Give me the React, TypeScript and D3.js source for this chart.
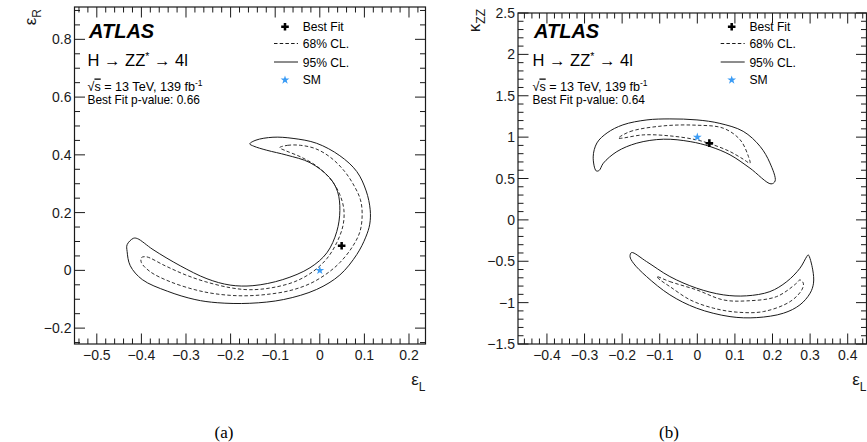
import React from "react";
import * as d3 from "d3";

type Pt = [number, number];

// ---------- tick labels ----------
const epsLTicksA = [-0.5, -0.4, -0.3, -0.2, -0.1, 0, 0.1, 0.2];
const epsRTicksA = [-0.2, 0, 0.2, 0.4, 0.6, 0.8];
const epsLTicksB = [-0.4, -0.3, -0.2, -0.1, 0, 0.1, 0.2, 0.3, 0.4];
const kappaTicksB = [-1.5, -1, -0.5, 0, 0.5, 1, 1.5, 2, 2.5];

// ---------- (a) eps_L vs eps_R contours ----------
const cl95A: Pt[] = [
  [-0.157, 0.438], [-0.143, 0.451], [-0.105, 0.461], [-0.06, 0.457], [-0.007, 0.44],
  [0.045, 0.397], [0.083, 0.342], [0.104, 0.275], [0.113, 0.21], [0.112, 0.16], [0.103, 0.115],
  [0.083, 0.055], [0.045, -0.016], [-0.007, -0.066], [-0.081, -0.101], [-0.157, -0.114],
  [-0.23, -0.112], [-0.28, -0.101], [-0.342, -0.072], [-0.398, -0.032], [-0.425, 0.016],
  [-0.432, 0.065], [-0.432, 0.089], [-0.418, 0.111],
  [-0.409, 0.11], [-0.374, 0.072], [-0.313, 0.016], [-0.253, -0.029], [-0.201, -0.051],
  [-0.15, -0.053], [-0.083, -0.032], [-0.022, 0.009], [0.016, 0.061], [0.038, 0.134],
  [0.045, 0.207], [0.04, 0.272], [0.022, 0.321], [-0.022, 0.373], [-0.074, 0.399],
  [-0.119, 0.416], [-0.148, 0.43],
];
const cl68A: Pt[] = [
  [-0.09, 0.425], [-0.072, 0.433], [-0.043, 0.433], [-0.009, 0.421], [0.025, 0.39],
  [0.056, 0.342], [0.078, 0.29], [0.091, 0.245], [0.095, 0.196], [0.09, 0.134],
  [0.072, 0.079], [0.045, 0.027], [0.016, -0.011], [-0.022, -0.046], [-0.067, -0.07],
  [-0.123, -0.084], [-0.179, -0.088], [-0.235, -0.081], [-0.28, -0.067], [-0.336, -0.039],
  [-0.38, -0.005], [-0.4, 0.027], [-0.4, 0.044],
  [-0.389, 0.047], [-0.347, 0.016], [-0.302, -0.015], [-0.257, -0.039], [-0.201, -0.06],
  [-0.157, -0.067], [-0.107, -0.06], [-0.056, -0.039], [-0.016, -0.005], [0.016, 0.041],
  [0.038, 0.096], [0.052, 0.155], [0.054, 0.21], [0.045, 0.262], [0.027, 0.31],
  [-0.005, 0.359], [-0.043, 0.393], [-0.076, 0.414],
];
const bestFitA: Pt = [0.049, 0.085];
const smA: Pt = [0, 0];

// ---------- (b) eps_L vs kappa_ZZ contours ----------
const cl95BUpper: Pt[] = [
  [-0.269, 0.592], [-0.277, 0.761], [-0.267, 0.93], [-0.24, 1.051], [-0.198, 1.148],
  [-0.134, 1.208], [-0.073, 1.22], [-0.001, 1.208], [0.06, 1.166], [0.122, 1.07],
  [0.167, 0.888], [0.193, 0.689], [0.207, 0.471], [0.196, 0.435],
  [0.14, 0.625], [0.087, 0.786], [0.034, 0.886], [-0.019, 0.946], [-0.09, 0.975],
  [-0.161, 0.927], [-0.214, 0.825], [-0.25, 0.685], [-0.261, 0.598],
];
const cl95BLower: Pt[] = [
  [-0.175, -0.395], [-0.135, -0.504], [-0.073, -0.685], [-0.002, -0.825], [0.069, -0.906],
  [0.131, -0.918], [0.193, -0.867], [0.238, -0.746], [0.273, -0.584], [0.291, -0.444],
  [0.295, -0.423], [0.307, -0.604], [0.309, -0.765], [0.3, -0.886], [0.273, -1.027],
  [0.229, -1.128], [0.158, -1.181], [0.087, -1.169], [-0.002, -1.067], [-0.073, -0.906],
  [-0.135, -0.685], [-0.17, -0.523], [-0.179, -0.444],
];
const cl68BUpper: Pt[] = [
  [-0.21, 0.987], [-0.179, 1.067], [-0.09, 1.136], [-0.002, 1.144], [0.069, 1.108],
  [0.114, 0.967], [0.136, 0.765], [0.14, 0.685],
  [0.122, 0.734], [0.087, 0.825], [0.043, 0.906], [-0.002, 0.967], [-0.073, 1.015],
  [-0.144, 1.027], [-0.201, 0.987],
];
const cl68BLower: Pt[] = [
  [-0.108, -0.685], [-0.073, -0.746], [-0.002, -0.846], [0.069, -0.967], [0.131, -0.979],
  [0.211, -0.927], [0.264, -0.765], [0.273, -0.725],
  [0.282, -0.765], [0.278, -0.846], [0.247, -0.987], [0.176, -1.108], [0.105, -1.115],
  [0.043, -1.067], [-0.019, -0.967], [-0.073, -0.806], [-0.099, -0.725],
];
const bestFitB: Pt = [0.032, 0.927];
const smB: Pt = [0, 1];

const SANS = "'Liberation Sans', Arial, Helvetica, sans-serif";
const SERIF = "'Liberation Serif', 'Times New Roman', serif";
const INK = "#1a1a1a";
const SM_BLUE = "#3b9cf5";

const fmt = (v: number) => (v === 0 ? "0" : String(v).replace("-", "\u2212"));

type PanelProps = {
  xDomain: [number, number];
  xRange: [number, number];
  yDomain: [number, number];
  yRange: [number, number];
  xTicks: number[];
  yTicks: number[];
  xMinor: number;
  yMinor: number;
  cl95: Pt[][];
  cl68: Pt[][];
  bestFit: Pt;
  sm: Pt;
  pValue: string;
  textX: number;
  legendX: number;
  yTitle: React.ReactNode;
  yTitleX: number;
  xTitleX: number;
  caption: string;
  captionX: number;
};

function minorValues(d: [number, number], step: number) {
  const out: number[] = [];
  const lo = Math.ceil(d[0] / step - 1e-9);
  const hi = Math.floor(d[1] / step + 1e-9);
  for (let i = lo; i <= hi; i++) out.push(+(i * step).toFixed(6));
  return out;
}

function Panel(p: PanelProps) {
  const x = d3.scaleLinear().domain(p.xDomain).range(p.xRange);
  const y = d3.scaleLinear().domain(p.yDomain).range(p.yRange);
  const [x0, x1] = p.xRange;
  const [y0, y1] = [p.yRange[1], p.yRange[0]]; // top, bottom
  const line = d3
    .line<Pt>()
    .x((d) => x(d[0]))
    .y((d) => y(d[1]))
    .curve(d3.curveCatmullRomClosed.alpha(0.5));

  const majL = 10.5;
  const minL = 5.5;
  const isMajor = (v: number, ticks: number[]) => ticks.some((t) => Math.abs(t - v) < 1e-6);

  const xm = minorValues(p.xDomain, p.xMinor);
  const ym = minorValues(p.yDomain, p.yMinor);

  const cross = d3.symbol(d3.symbolCross, 32)();
  const star = d3.symbol(d3.symbolStar, 24)();

  const lx = p.legendX;
  return (
    <g>
      {/* contours */}
      {p.cl95.map((c, i) => (
        <path key={"s" + i} d={line(c) || ""} fill="none" stroke={INK} strokeWidth={1} />
      ))}
      {p.cl68.map((c, i) => (
        <path
          key={"d" + i}
          d={line(c) || ""}
          fill="none"
          stroke={INK}
          strokeWidth={0.9}
          strokeDasharray="3.5,2.2"
        />
      ))}
      <path d={star} transform={`translate(${x(p.sm[0])},${y(p.sm[1])})`} fill={SM_BLUE} />
      <path d={cross} transform={`translate(${x(p.bestFit[0])},${y(p.bestFit[1])})`} fill="#000" />

      {/* frame and ticks */}
      <rect x={x0} y={y0} width={x1 - x0} height={y1 - y0} fill="none" stroke={INK} strokeWidth={1.2} />
      {xm.map((v) => {
        const L = isMajor(v, p.xTicks) ? majL : minL;
        const px = x(v);
        return (
          <g key={"xt" + v} stroke={INK} strokeWidth={1}>
            <line x1={px} x2={px} y1={y1} y2={y1 - L} />
            <line x1={px} x2={px} y1={y0} y2={y0 + L} />
          </g>
        );
      })}
      {ym.map((v) => {
        const L = isMajor(v, p.yTicks) ? majL : minL;
        const py = y(v);
        return (
          <g key={"yt" + v} stroke={INK} strokeWidth={1}>
            <line x1={x0} x2={x0 + L} y1={py} y2={py} />
            <line x1={x1} x2={x1 - L} y1={py} y2={py} />
          </g>
        );
      })}
      {p.xTicks.map((v) => (
        <text key={"xl" + v} x={x(v)} y={y1 + 16} textAnchor="middle" fontFamily={SANS} fontSize={14} fill={INK}>
          {fmt(v)}
        </text>
      ))}
      {p.yTicks.map((v) => (
        <text key={"yl" + v} x={x0 - 3} y={y(v) + 5} textAnchor="end" fontFamily={SANS} fontSize={14} fill={INK}>
          {fmt(v)}
        </text>
      ))}

      {/* axis titles */}
      <g transform={`translate(${p.yTitleX},9) rotate(-90)`}>{p.yTitle}</g>
      <text x={p.xTitleX} y={385} textAnchor="end" fontFamily={SANS} fill={INK}>
        <tspan fontSize={17}>ε</tspan>
        <tspan fontSize={12} dy={6}>L</tspan>
      </text>

      {/* header text */}
      <text x={p.textX + 1.5} y={38.3} fontFamily={SANS} fontSize={20} fontWeight="bold" fontStyle="italic" fill="#000">
        ATLAS
      </text>
      <text x={p.textX} y={66} fontFamily={SANS} fontSize={16.5} fill="#000">
        H → ZZ<tspan fontSize={10.5} dy={-6.5}>*</tspan>
        <tspan dy={6.5}> → 4l</tspan>
      </text>
      <text x={p.textX} y={90.5} fontFamily={SANS} fontSize={12.6} fill="#000">
        √<tspan style={{ textDecoration: "overline" }}>s</tspan> = 13 TeV, 139 fb
        <tspan fontSize={8.5} dy={-5}>-1</tspan>
      </text>
      <text x={p.textX} y={104} fontFamily={SANS} fontSize={11.9} fill="#000">
        Best Fit p-value: {p.pValue}
      </text>

      {/* legend */}
      <path d={cross} transform={`translate(${lx},26.7)`} fill="#000" />
      <text x={lx + 17.7} y={30.7} fontFamily={SANS} fontSize={12.1} fill="#000">Best Fit</text>
      <line x1={lx - 11} x2={lx + 13} y1={43.5} y2={43.5} stroke={INK} strokeWidth={1} strokeDasharray="3.5,2.2" />
      <text x={lx + 17.7} y={48.3} fontFamily={SANS} fontSize={12.1} fill="#000">68% CL.</text>
      <line x1={lx - 11} x2={lx + 13} y1={62} y2={62} stroke={INK} strokeWidth={1} />
      <text x={lx + 17.7} y={66.5} fontFamily={SANS} fontSize={12.1} fill="#000">95% CL.</text>
      <path d={star} transform={`translate(${lx},80)`} fill={SM_BLUE} />
      <text x={lx + 17.7} y={83.5} fontFamily={SANS} fontSize={12.1} fill="#000">SM</text>

      {/* caption */}
      <text x={p.captionX} y={437.5} textAnchor="middle" fontFamily={SERIF} fontSize={17} fill="#000">
        {p.caption}
      </text>
    </g>
  );
}

export default function App() {
  return (
    <svg width={867} height={442} style={{ position: "absolute", left: 0, top: 0, background: "#fff" }}>
      <Panel
        xDomain={[-0.55, 0.237]}
        xRange={[74.5, 425.5]}
        yDomain={[-0.255, 0.912]}
        yRange={[344, 7]}
        xTicks={epsLTicksA}
        yTicks={epsRTicksA}
        xMinor={0.02}
        yMinor={0.05}
        cl95={[cl95A]}
        cl68={[cl68A]}
        bestFit={bestFitA}
        sm={smA}
        pValue="0.66"
        textX={87.5}
        legendX={285}
        yTitle={
          <text x={0} y={0} textAnchor="end" fontFamily={SANS} fill={INK}>
            <tspan fontSize={17}>ε</tspan>
            <tspan fontSize={12} dy={5}>R</tspan>
          </text>
        }
        yTitleX={36}
        xTitleX={425.5}
        caption="(a)"
        captionX={224}
      />
      <Panel
        xDomain={[-0.477, 0.45]}
        xRange={[518, 866.5]}
        yDomain={[-1.5, 2.5]}
        yRange={[344, 13]}
        xTicks={epsLTicksB}
        yTicks={kappaTicksB}
        xMinor={0.02}
        yMinor={0.1}
        cl95={[cl95BUpper, cl95BLower]}
        cl68={[cl68BUpper, cl68BLower]}
        bestFit={bestFitB}
        sm={smB}
        pValue="0.64"
        textX={532.5}
        legendX={731.7}
        yTitle={
          <text x={0} y={0} textAnchor="end" fontFamily={SANS} fill={INK}>
            <tspan fontSize={17}>κ</tspan>
            <tspan fontSize={12} dy={5}>ZZ</tspan>
          </text>
        }
        yTitleX={480}
        xTitleX={866.5}
        caption="(b)"
        captionX={669}
      />
    </svg>
  );
}
